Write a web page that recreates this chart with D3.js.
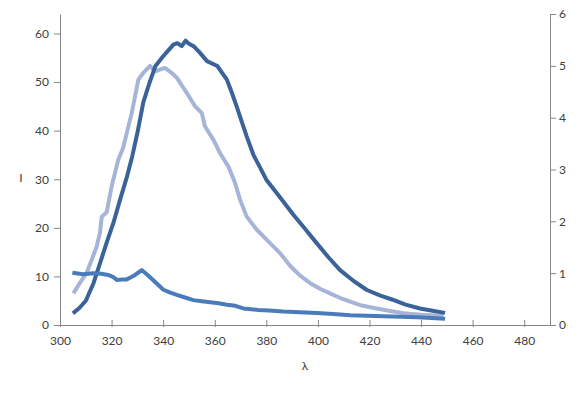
<!DOCTYPE html>
<html>
<head>
<meta charset="utf-8">
<script src="https://cdn.jsdelivr.net/npm/d3@7"></script>
<style>
  body { margin: 0; background: #fff; }
  .axis text { font-family: Lato, "Open Sans", sans-serif; font-size: 12px; fill: #404040; }
  .axis path, .axis line { stroke: #868686; }
  .title { font-family: Lato, "Open Sans", sans-serif; font-size: 12px; fill: #404040; }
</style>
</head>
<body>
<div class="viz"></div>
<script>
// wavelength / intensity readings
const waveDark = [305, 307.5, 310, 313, 315.5, 318, 320.7, 323.3, 326, 328, 330, 332.3, 334.5, 337, 340, 342, 344, 345.5, 347.2, 348.7, 350, 352, 354.3, 357, 361, 364.7, 366.5, 368.5, 370.5, 372.4, 375, 377.5, 380, 385, 390.5, 395, 399.6, 404, 408.6, 414, 419, 424, 429, 434, 439.6, 445, 449.3];
const intDark  = [2.4, 3.5, 5.0, 8.6, 12.7, 16.8, 21, 25.8, 30.6, 34.7, 39.5, 45.8, 49.5, 53.3, 55.3, 56.5, 57.7, 58, 57.4, 58.5, 57.9, 57.3, 56, 54.3, 53.3, 50.5, 48, 45, 41.8, 38.8, 35, 32.5, 29.9, 26.5, 22.7, 19.8, 16.8, 14, 11.3, 9, 7.2, 6.1, 5.2, 4.2, 3.4, 2.9, 2.5];

const waveLight = [305.2, 307.5, 310.3, 312, 314.2, 315.5, 316.2, 318.1, 320, 322.6, 324.5, 327.8, 330.4, 332.3, 334.9, 336.9, 338.5, 340.7, 343, 345.3, 347, 349.1, 352.4, 355, 356.2, 359.5, 362, 365.3, 367.9, 369.8, 372.4, 376.3, 380.2, 385.3, 389.2, 393, 397, 401, 404.7, 408.5, 412.5, 417, 422.8, 428, 433.2, 440, 448.7];
const intLight  = [6.5, 8.5, 10.7, 13, 16.1, 19, 22.3, 23.2, 28.5, 34, 36.5, 43.6, 50.5, 51.9, 53.3, 52.2, 52.5, 52.9, 52, 50.9, 49.5, 47.8, 45, 43.6, 40.9, 38.1, 35.4, 32.6, 29.2, 25.8, 22.3, 19.6, 17.5, 14.8, 12.2, 10.2, 8.6, 7.4, 6.5, 5.6, 4.8, 4, 3.4, 2.9, 2.4, 2.1, 1.9];

// this one is read on the right axis
const waveMid = [304.8, 309, 312.9, 316, 318.7, 320.5, 322, 324, 325.9, 327.5, 329.1, 331.7, 334.3, 337.5, 340.1, 342.5, 345.3, 348.5, 351.7, 355, 358.2, 361.5, 364.7, 368, 371.1, 376.9, 381, 386.6, 393, 399.6, 406, 412.5, 419, 425.4, 432, 438.4, 444, 449.3];
const intMid  = [1.01, 0.98, 1.0, 0.99, 0.965, 0.93, 0.87, 0.88, 0.88, 0.92, 0.965, 1.06, 0.95, 0.8, 0.68, 0.63, 0.58, 0.53, 0.48, 0.46, 0.44, 0.42, 0.39, 0.37, 0.32, 0.29, 0.28, 0.26, 0.245, 0.23, 0.21, 0.19, 0.18, 0.17, 0.16, 0.15, 0.135, 0.12];

const xTicks = [300, 320, 340, 360, 380, 400, 420, 440, 460, 480];
const yTicks = [0, 10, 20, 30, 40, 50, 60];
const y2Ticks = [0, 1, 2, 3, 4, 5, 6];

const W = 578, H = 393;
const margin = { top: 14, bottom: 68, left: 60, right: 28 };

const svg = d3.select('.viz')
    .append('svg')
    .attr('width', W)
    .attr('height', H);

const x = d3.scaleLinear().domain([300, 490]).range([margin.left, W - margin.right]);
const y = d3.scaleLinear().domain([0, 64]).range([H - margin.bottom, margin.top]);
const y2 = d3.scaleLinear().domain([0, 6]).range([H - margin.bottom, margin.top]);

/* AXES */
svg.append("g")
    .attr("class", "axis")
    .attr("transform", "translate(" + margin.left + ",0)")
    .call(d3.axisLeft(y).tickValues(yTicks).tickSize(6).tickPadding(5).tickSizeOuter(0));

svg.append("g")
    .attr("class", "axis")
    .attr("transform", "translate(" + (W - margin.right) + ",0)")
    .call(d3.axisRight(y2).tickValues(y2Ticks).tickFormat(d3.format("d")).tickSize(6).tickPadding(3).tickSizeOuter(0));

const xAxis = svg.append("g")
    .attr("class", "axis")
    .attr("transform", "translate(0," + (H - margin.bottom) + ")")
    .call(d3.axisBottom(x).tickValues(xTicks).tickSize(2).tickPadding(9).tickSizeOuter(0));
// ticks cross the axis line
xAxis.selectAll(".tick line").attr("y1", -5).attr("y2", 2);

svg.append("text")
    .attr("class", "title")
    .attr("x", 21)
    .attr("y", 182)
    .attr("text-anchor", "middle")
    .text("I");

svg.append("text")
    .attr("class", "title")
    .attr("x", x(395))
    .attr("y", 370)
    .attr("text-anchor", "middle")
    .text("λ");

/* LINES */
function drawLine(waves, ints, scaleY, colour) {
    const pts = waves.map(function(w, i) { return [w, ints[i]]; });
    svg.append("path")
        .datum(pts)
        .attr("fill", "none")
        .attr("stroke", colour)
        .attr("stroke-width", 4)
        .attr("stroke-linejoin", "round")
        .attr("d", d3.line()
            .x(function(d) { return x(d[0]); })
            .y(function(d) { return scaleY(d[1]); }));
}

drawLine(waveLight, intLight, y, "#a6b5d7");
drawLine(waveDark, intDark, y, "#3a6399");
drawLine(waveMid, intMid, y2, "#4a7cbb");
</script>
</body>
</html>
